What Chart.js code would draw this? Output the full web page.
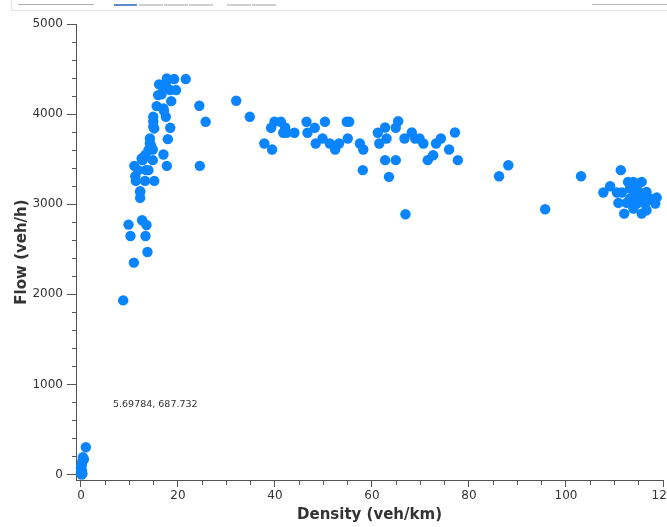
<!DOCTYPE html>
<html>
<head>
<meta charset="utf-8">
<script src="https://cdn.jsdelivr.net/npm/chart.js@4.4.0/dist/chart.umd.min.js"></script>
<style>
body{margin:0;background:#fff;}
#wrap{position:relative;width:667px;height:527px;overflow:hidden;}
#chart{position:absolute;left:0;top:0;}
#frame{position:absolute;left:11px;top:-2px;width:670px;height:12px;border-left:1px solid #e4e4e4;border-bottom:1px solid #e4e4e4;}
.bar{position:absolute;top:4px;height:2px;background:#cfcfcf;}
</style>
</head>
<body>
<div id="wrap">
<canvas id="chart" width="667" height="527"></canvas>
<div id="frame"></div>
<div class="bar" style="left:18px;width:76px;height:1px;background:#b0b0b0"></div>
<div class="bar" style="left:114px;width:23px;background:#5a8ccc"></div>
<div class="bar" style="left:139px;width:24px"></div>
<div class="bar" style="left:164px;width:24px"></div>
<div class="bar" style="left:189px;width:24px"></div>
<div class="bar" style="left:227px;width:24px"></div>
<div class="bar" style="left:252px;width:24px"></div>
<div class="bar" style="left:592px;width:75px;height:1px;background:#b8b8b8"></div>
</div>
<script>
// data
const density = [
  1.0, 0.4, 0.6, 0.3, 0.2, 0.1, 0.0, 0.2, 0.0, 0.3, 0.1,
  8.7, 10.9, 9.8, 10.2, 12.6, 13.5, 13.3, 13.7, 12.2, 12.2, 11.3, 11.2, 11.0, 13.2, 15.1,
  12.7, 13.4, 13.9, 13.2, 14.8, 13.9, 14.8, 14.2, 14.2, 17.0, 17.7, 17.9, 18.4, 15.1, 14.9,
  14.9, 17.5, 17.1, 15.6, 18.6, 15.9, 16.6, 19.6, 16.1, 17.5, 17.7, 19.2, 21.6, 17.0, 24.4,
  25.7, 24.5, 17.3, 18.4, 17.0, 14.9, 14.4, 12.5, 11.8, 12.2,
  32.0, 34.8, 37.8, 39.4, 39.9, 41.2, 39.2, 42.1, 41.7, 42.4, 44.0, 46.5, 46.7, 48.2, 50.3,
  48.4, 49.8, 51.3, 52.4, 53.2, 54.8, 55.3, 55.0, 57.5, 58.2, 58.1, 61.2, 62.7, 63.0, 61.5,
  62.7, 63.5, 64.9, 64.9, 65.4, 66.9, 66.7, 68.2, 68.9, 69.8, 70.6, 71.5, 72.6, 73.2, 74.2,
  75.9, 77.1, 77.7,
  86.2, 88.1, 95.7, 103.1, 111.3, 107.7, 109.1, 110.5, 111.5, 110.8, 112.0, 112.8, 113.9,
  115.6, 113.2, 114.6, 114.2, 115.9, 116.6, 113.2, 115.3, 117.3, 118.7, 112.5, 114.6, 116.3,
  118.4, 113.9, 115.6, 116.6
];
const flow = [
  303, 192, 170, 150, 120, 95, 70, 45, 25, 10, 0,
  1933, 2352, 2774, 2648, 2822, 2770, 2648, 2470, 3137, 3070, 3259, 3311, 3426, 3259, 3259,
  3489, 3378, 3378, 3544, 3489, 3600, 3607, 3674, 3730, 3552, 3426, 3722, 3848, 3841, 3915,
  3970, 3970, 4037, 4089, 4144, 4211, 4219, 4267, 4330, 4348, 4396, 4389, 4389, 4285, 4093,
  3915, 3426, 4322, 4267, 4063, 3859, 3656, 3508, 3378, 3144,
  4148, 3970, 3674, 3607, 3915, 3915, 3848, 3852, 3793, 3793, 3793, 3915, 3793, 3848, 3915,
  3674, 3730, 3674, 3607, 3674, 3915, 3915, 3730, 3674, 3607, 3378, 3793, 3852, 3730, 3674,
  3489, 3304, 3489, 3848, 3922, 2889, 3730, 3796, 3730, 3730, 3674, 3489, 3544, 3674, 3730,
  3607, 3796, 3489,
  3311, 3433, 2944, 3311, 3378, 3130, 3200, 3130, 3130, 3015, 2896, 3248, 3248,
  3248, 3174, 3174, 3119, 3119, 3137, 3063, 3063, 3063, 3074, 3015, 3007, 3007,
  3007, 2952, 2896, 2933
];
const xLabels = [0, 20, 40, 60, 80, 100, 120];
const yLabels = [0, 1000, 2000, 3000, 4000, 5000];
const xMinorStep = 5;
const yMinorStep = 200;
const readoutText = '5.69784, 687.732';

const points = density.map((d, i) => ({x: d, y: flow[i]}));

const xTickValues = [];
for (let v = 0; v <= 120; v += xMinorStep) xTickValues.push(v);
const yTickValues = [];
for (let v = 0; v <= 5000; v += yMinorStep) yTickValues.push(v);

const tickFont = {family: 'DejaVu Sans', size: 12};
const titleFont = {family: 'DejaVu Sans', size: 15, weight: 'bold'};

// coordinate readout left on the plot
const readout = {
  id: 'readout',
  afterDraw(chart) {
    const c = chart.ctx;
    c.save();
    c.font = '9.5px "DejaVu Sans"';
    c.fillStyle = '#333';
    c.textBaseline = 'alphabetic';
    c.fillText(readoutText, 113, 407);
    c.restore();
  }
};

const ctx = document.getElementById('chart').getContext('2d');
const myChart = new Chart(ctx, {
  type: 'scatter',
  data: {
    datasets: [{
      data: points,
      backgroundColor: '#0a84ff',
      borderWidth: 0,
      pointRadius: 5.2,
      pointHoverRadius: 5.2,
      clip: false
    }]
  },
  options: {
    responsive: false,
    animation: false,
    devicePixelRatio: 1,
    layout: {padding: {top: 24, right: 4, left: 0, bottom: 0}, autoPadding: false},
    plugins: {legend: {display: false}, tooltip: {enabled: false}},
    scales: {
      x: {
        type: 'linear',
        min: -1.03,
        max: 120,
        afterBuildTicks: s => { s.ticks = xTickValues.map(v => ({value: v})); },
        afterFit: s => { s.height = 47; s.paddingLeft = 0; s.paddingRight = 0; },
        ticks: {
          autoSkip: false, maxRotation: 0, padding: 2, color: '#333', font: tickFont,
          callback: v => xLabels.includes(v) ? String(v) : ''
        },
        grid: {
          drawOnChartArea: false, tickLength: 7, tickColor: '#555',
          tickBorderDash: c => (c.tick && xLabels.includes(c.tick.value)) ? [] : [4, 100]
        },
        border: {color: '#555'},
        title: {display: true, text: 'Density (veh/km)', color: '#333', font: titleFont, padding: {top: 0, bottom: 3}}
      },
      y: {
        type: 'linear',
        min: -60,
        max: 5000,
        afterBuildTicks: s => { s.ticks = yTickValues.map(v => ({value: v})); },
        afterFit: s => { s.width = 76; s.paddingTop = 0; s.paddingBottom = 0; },
        ticks: {
          autoSkip: false, padding: 4, color: '#333', font: tickFont,
          callback: v => yLabels.includes(v) ? String(v) : ''
        },
        grid: {
          drawOnChartArea: false, tickLength: 9, tickColor: '#555',
          tickBorderDash: c => (c.tick && yLabels.includes(c.tick.value)) ? [] : [0, 5, 4, 100]
        },
        border: {color: '#555'},
        title: {display: true, text: 'Flow (veh/h)', color: '#333', font: titleFont, padding: {top: 13, bottom: 0}}
      }
    }
  },
  plugins: [readout]
});
</script>
</body>
</html>
